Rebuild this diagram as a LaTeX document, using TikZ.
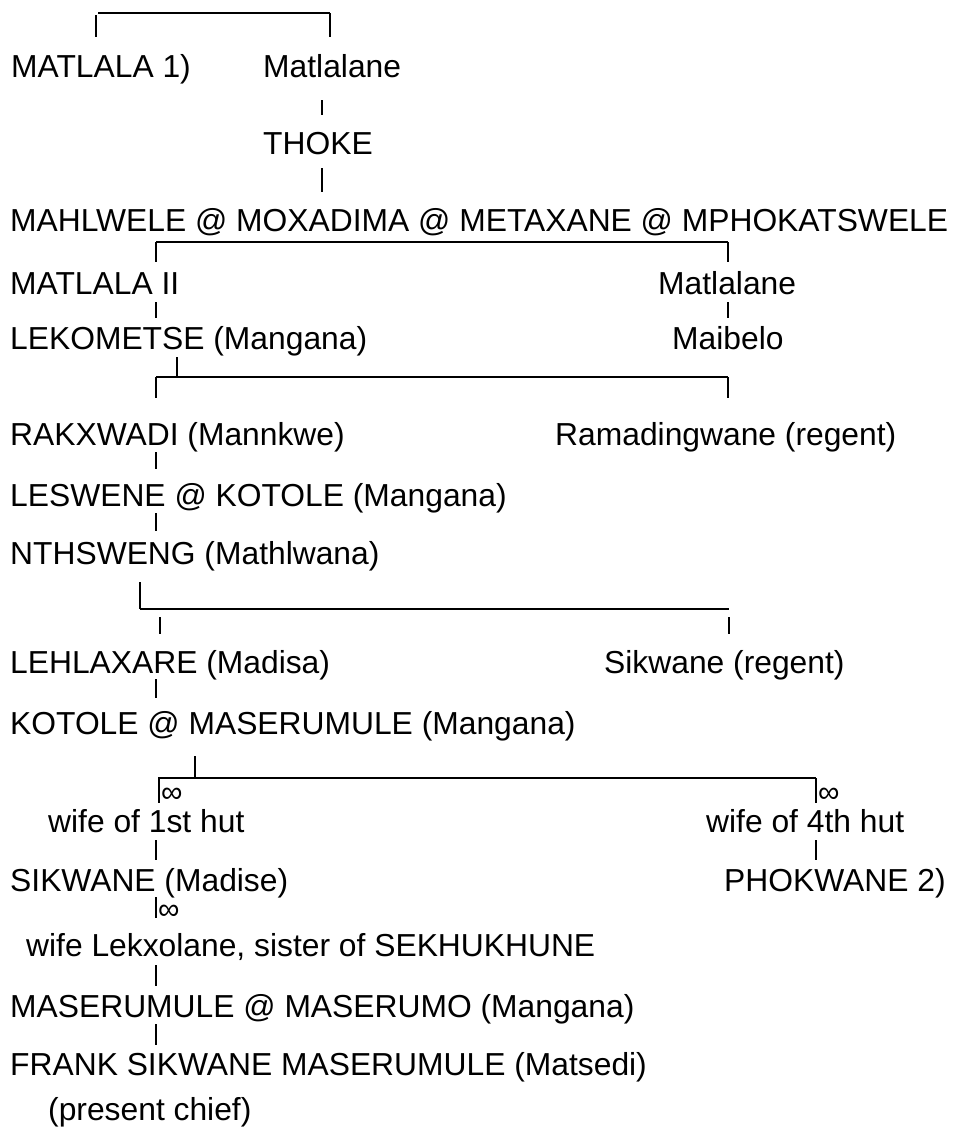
\documentclass[tikz,border=0pt]{standalone}
\usepackage{fontspec}
\setmainfont{Liberation Sans}
\begin{document}
\begin{tikzpicture}[x=1pt,y=-1pt,
  lbl/.style={anchor=base west, inner sep=0pt, font=\fontsize{31.8}{31.8}\selectfont},
  hline/.style={line width=2.6pt},
  tick/.style={line width=2.3pt},
  infs/.style={anchor=west, inner sep=0pt, font=\fontsize{30}{30}\selectfont}]
\useasboundingbox[fill=white] (0,0) rectangle (955,1133);
% names
\node[lbl] (matlala1) at (11,77) {MATLALA 1)};
\node[lbl] (matlalaneA) at (263,77) {Matlalane};
\node[lbl] (thoke) at (263,154) {THOKE};
\node[lbl] (mahlwele) at (10,231) {MAHLWELE @ MOXADIMA @ METAXANE @ MPHOKATSWELE};
\node[lbl] (matlala2) at (10,294) {MATLALA II};
\node[lbl] (matlalaneB) at (658,294) {Matlalane};
\node[lbl] (lekometse) at (10,349) {LEKOMETSE (Mangana)};
\node[lbl] (maibelo) at (672,349) {Maibelo};
\node[lbl] (rakxwadi) at (10,445) {RAKXWADI (Mannkwe)};
\node[lbl] (ramading) at (555,445) {Ramadingwane (regent)};
\node[lbl] (leswene) at (10,506) {LESWENE @ KOTOLE (Mangana)};
\node[lbl] (nthsweng) at (10,564) {NTHSWENG (Mathlwana)};
\node[lbl] (lehlaxare) at (10,673) {LEHLAXARE (Madisa)};
\node[lbl] (sikwaneR) at (604,673) {Sikwane (regent)};
\node[lbl] (kotole) at (10,734) {KOTOLE @ MASERUMULE (Mangana)};
\node[lbl] (wife1) at (48,832) {wife of 1st hut};
\node[lbl] (wife4) at (706,832) {wife of 4th hut};
\node[lbl] (sikwane) at (10,891) {SIKWANE (Madise)};
\node[lbl] (phokwane) at (724,891) {PHOKWANE 2)};
\node[lbl] (lekxolane) at (26,956) {wife Lekxolane, sister of SEKHUKHUNE};
\node[lbl] (maserumule) at (10,1017) {MASERUMULE @ MASERUMO (Mangana)};
\node[lbl] (frank) at (10,1075) {FRANK SIKWANE MASERUMULE (Matsedi)};
\node[lbl] (present) at (48,1120) {(present chief)};
% top bracket
\draw[tick] (96,15) -- (96,37);
\draw[hline] (98,13) -- (330,13);
\draw[tick] (330,13) -- (330,37);
\draw[tick] (322,100) -- (322,115);
\draw[tick] (322,168) -- (322,192);
% MAHLWELE bracket
\draw[hline] (156,242) -- (728,242);
\draw[tick] (156,242) -- (156,262);
\draw[tick] (728,242) -- (728,262);
\draw[tick] (156,302) -- (156,318);
\draw[tick] (728,302) -- (728,318);
% LEKOMETSE bracket
\draw[tick] (177,357) -- (177,377);
\draw[hline] (156,377) -- (728,377);
\draw[tick] (156,377) -- (156,398);
\draw[tick] (728,377) -- (728,398);
\draw[tick] (156,452) -- (156,469);
\draw[tick] (156,513) -- (156,531);
% NTHSWENG bracket
\draw[tick] (140,582) -- (140,609);
\draw[hline] (140,609) -- (729,609);
\draw[tick] (160,617) -- (160,634);
\draw[tick] (729,617) -- (729,634);
\draw[tick] (156,679) -- (156,698);
% KOTOLE bracket
\draw[tick] (195,756) -- (195,778);
\draw[hline] (158,778) -- (816,778);
\draw[tick] (159,778) -- (159,803);
\draw[tick] (816,778) -- (816,803);
\node[infs] (inf1) at (161,795) {∞};
\node[infs] (inf4) at (818,795) {∞};
\draw[tick] (156,840) -- (156,860);
\draw[tick] (816,840) -- (816,860);
\draw[tick] (156,897) -- (156,918);
\node[infs] (inf5) at (158,912) {∞};
\draw[tick] (156,965) -- (156,986);
\draw[tick] (156,1024) -- (156,1045);
\end{tikzpicture}
\end{document}
